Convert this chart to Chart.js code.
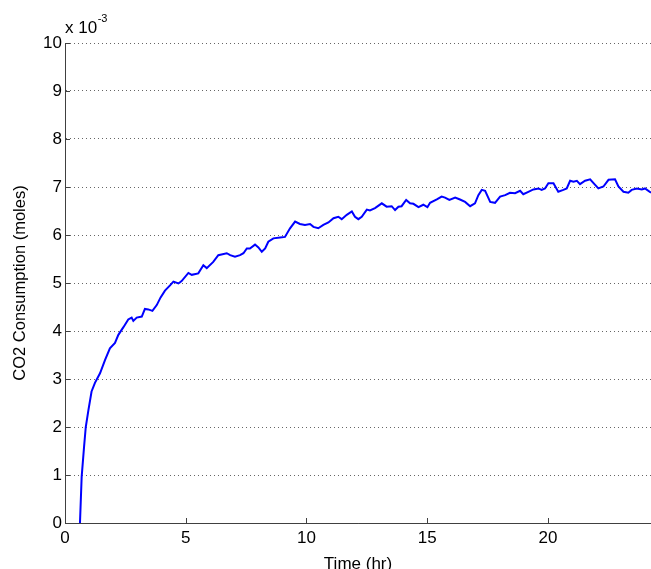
<!DOCTYPE html>
<html>
<head>
<meta charset="utf-8">
<script src="https://cdn.jsdelivr.net/npm/chart.js@4/dist/chart.umd.min.js"></script>
<style>
  html, body { margin: 0; padding: 0; background: #fff; overflow: hidden; }
  #wrap { width: 651px; height: 569px; }
</style>
</head>
<body>
<div id="wrap"><canvas id="c" width="651" height="569"></canvas></div>
<script>
// Time (hr)
const timeHr = [0.62,0.69,0.79,0.86,0.97,1.10,1.24,1.45,1.66,1.86,
  2.07,2.21,2.42,2.62,2.76,2.83,2.97,3.18,3.31,3.45,
  3.62,3.80,3.96,4.14,4.35,4.49,4.70,4.83,5.11,5.25,
  5.52,5.73,5.87,6.14,6.35,6.70,6.84,7.04,7.25,7.39,
  7.53,7.66,7.87,8.01,8.15,8.29,8.42,8.63,8.91,9.11,
  9.32,9.53,9.73,9.94,10.15,10.29,10.49,10.70,10.91,11.12,
  11.32,11.46,11.67,11.88,12.01,12.15,12.29,12.50,12.63,12.84,
  13.12,13.32,13.53,13.67,13.81,13.94,14.13,14.29,14.43,14.64,
  14.84,15.01,15.12,15.40,15.60,15.74,15.92,16.16,16.36,16.57,
  16.78,16.98,17.12,17.26,17.40,17.61,17.81,18.02,18.23,18.43,
  18.64,18.85,18.98,19.19,19.40,19.61,19.74,19.88,20.02,20.23,
  20.43,20.64,20.78,20.92,21.06,21.20,21.33,21.54,21.75,21.89,
  22.09,22.30,22.51,22.78,22.92,23.13,23.33,23.47,23.68,23.89,
  24.02,24.27];
// CO2 consumption (x 10^-3 moles)
const co2Consumption = [0,0.96,1.59,2.0,2.35,2.74,2.92,3.12,3.40,3.64,
  3.75,3.92,4.08,4.24,4.28,4.21,4.28,4.30,4.46,4.45,
  4.42,4.54,4.70,4.84,4.95,5.03,4.99,5.04,5.21,5.17,
  5.20,5.37,5.31,5.44,5.58,5.62,5.58,5.55,5.58,5.62,
  5.72,5.72,5.80,5.74,5.65,5.72,5.86,5.93,5.95,5.96,
  6.14,6.28,6.23,6.21,6.23,6.17,6.14,6.21,6.26,6.35,
  6.38,6.33,6.42,6.49,6.38,6.33,6.38,6.53,6.51,6.56,
  6.66,6.59,6.60,6.52,6.59,6.60,6.73,6.66,6.65,6.58,
  6.63,6.58,6.67,6.74,6.80,6.78,6.73,6.78,6.74,6.69,
  6.60,6.66,6.83,6.94,6.92,6.69,6.67,6.80,6.83,6.88,
  6.87,6.92,6.85,6.90,6.95,6.97,6.94,6.97,7.08,7.08,
  6.90,6.94,6.97,7.13,7.11,7.13,7.06,7.13,7.16,7.08,
  6.97,7.01,7.15,7.16,7.01,6.90,6.88,6.94,6.97,6.95,
  6.97,6.88];
const xTicks = [0, 5, 10, 15, 20];
const yTicks = [0,1,2,3,4,5,6,7,8,9,10];
const xLabel = 'Time (hr)';
const yLabel = 'CO2 Consumption (moles)';
const yExponent = '-3';

const FONT = '"Liberation Sans", Arial, Helvetica, sans-serif';
const AXIS = '#404040';

const innerTicks = {
  id: 'innerTicks',
  afterDraw(chart) {
    const {ctx, chartArea: a, scales: {x, y}} = chart;
    ctx.save();
    ctx.strokeStyle = AXIS;
    ctx.lineWidth = 1;
    ctx.beginPath();
    xTicks.forEach(v => {
      const px = Math.round(x.getPixelForValue(v)) + 0.5;
      ctx.moveTo(px, a.bottom);
      ctx.lineTo(px, a.bottom - 5);
    });
    yTicks.forEach(v => {
      const py = Math.round(y.getPixelForValue(v)) + 0.5;
      ctx.moveTo(a.left, py);
      ctx.lineTo(a.left + 5, py);
    });
    ctx.stroke();
    // exponent label
    ctx.fillStyle = '#000';
    ctx.textBaseline = 'alphabetic';
    ctx.textAlign = 'left';
    ctx.font = '17px ' + FONT;
    const base = 'x 10';
    ctx.fillText(base, a.left, a.top - 10);
    const w = ctx.measureText(base).width;
    ctx.font = '11px ' + FONT;
    ctx.fillText(yExponent, a.left + w + 0.5, a.top - 21);
    ctx.restore();
  }
};

new Chart(document.getElementById('c'), {
  type: 'line',
  data: {
    datasets: [{
      data: timeHr.map((t, i) => ({x: t, y: co2Consumption[i]})),
      borderColor: '#0000ff',
      borderWidth: 2,
      pointRadius: 0,
      tension: 0,
      fill: false
    }]
  },
  options: {
    responsive: false,
    animation: false,
    layout: { padding: { top: 43, left: 0, right: 0, bottom: 0 } },
    plugins: { legend: { display: false }, tooltip: { enabled: false } },
    scales: {
      x: {
        type: 'linear',
        min: 0,
        max: 24.27,
        afterFit: s => { s.height = 46; },
        afterBuildTicks: s => { s.ticks = xTicks.map(v => ({value: v})); },
        ticks: { stepSize: 5, includeBounds: false, color: '#000', padding: 5,
                 font: { family: FONT, size: 17 }, maxRotation: 0 },
        grid: { display: false, drawTicks: false },
        border: { display: true, color: AXIS, width: 1 },
        title: { display: true, text: xLabel, color: '#000',
                 font: { family: FONT, size: 17 }, padding: { top: 0, bottom: -6 } }
      },
      y: {
        type: 'linear',
        min: 0,
        max: 10,
        afterFit: s => { s.width = 65; },
        afterBuildTicks: s => { s.ticks = yTicks.map(v => ({value: v})); },
        ticks: { stepSize: 1, color: '#000', padding: 3,
                 font: { family: FONT, size: 17 } },
        grid: { display: true, drawTicks: false, color: 'rgba(0,0,0,0.6)', lineWidth: 1 },
        border: { display: true, color: AXIS, width: 1, dash: [1, 3] },
        title: { display: true, text: yLabel, color: '#000',
                 font: { family: FONT, size: 16.5 }, padding: { top: 11, bottom: 0 } }
      }
    }
  },
  plugins: [innerTicks]
});
</script>
</body>
</html>
